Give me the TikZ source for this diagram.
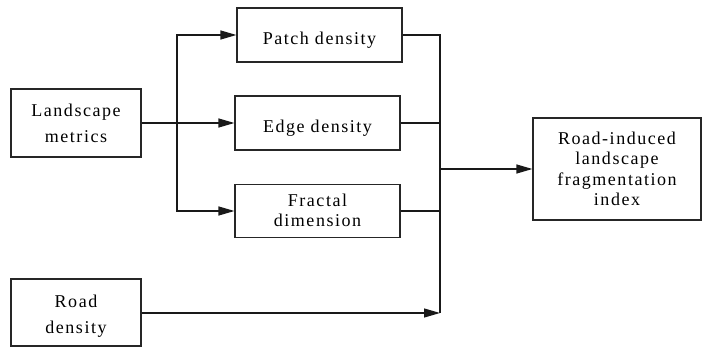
\documentclass[tikz,border=0pt]{standalone}
\usepackage{fontspec}
\setmainfont{Liberation Serif}[LetterSpace=8.5]
\usetikzlibrary{arrows.meta}
\tikzset{
  box/.style={draw=black!85, line width=1.2pt, inner sep=0pt, align=center,
    font=\fontsize{18}{20.5}\selectfont},
  link/.style={draw=black!90, line width=1.3pt},
  feed/.style={link, -{Triangle[length=16pt,width=9pt]}},
}
% set a label a little lower without changing the size it reserves
\newcommand{\lowered}[2]{\raisebox{-#1}[\height][\depth]{\begin{tabular}{@{}c@{}}#2\end{tabular}}}
\begin{document}
\begin{tikzpicture}[x=1pt, y=-1pt]
  \useasboundingbox (0,0) rectangle (705,350);

  % input boxes
  \node[box, minimum width=130pt, minimum height=68pt,
        font=\fontsize{18}{25.5}\selectfont] (lm) at (76,123)
        {\lowered{1.5pt}{Landscape\\metrics}};
  \node[box, minimum width=130pt, minimum height=67pt,
        font=\fontsize{18}{26.5}\selectfont] (road) at (76,312.5)
        {\lowered{2.5pt}{Road\\density}};

  % landscape metric boxes
  \node[box, minimum width=165pt, minimum height=54pt] (patch) at (319.5,35)
        {\lowered{5pt}{Patch density}};
  \node[box, minimum width=165pt, minimum height=54pt] (edge) at (317.5,123)
        {\lowered{5pt}{Edge density}};
  \node[box, minimum width=165pt, minimum height=53pt,
        font=\fontsize{18}{19.5}\selectfont] (fractal) at (317.5,211)
        {\lowered{1.5pt}{Fractal\\dimension}};

  % output box
  \node[box, minimum width=168pt, minimum height=102pt] (result) at (617,169)
    {Road-induced\\landscape\\fragmentation\\index};

  % split from landscape metrics
  \coordinate (split) at (177,123);
  \draw[feed] (lm.east) -- (edge.west);
  \draw[feed] (split) |- (patch.west);
  \draw[feed] (split) |- (fractal.west);

  % collecting bus
  \coordinate (busTop) at (440,35);
  \coordinate (busBot) at (440,313);
  \draw[link] (patch.east) -- (busTop) -- (busBot);
  \draw[link] (edge.east) -- (edge.east -| busTop);
  \draw[link] (fractal.east) -- (fractal.east -| busTop);
  \draw[feed] (road.east |- busBot) -- (busBot);
  \draw[feed] (busTop |- result.west) -- (result.west);
\end{tikzpicture}
\end{document}
